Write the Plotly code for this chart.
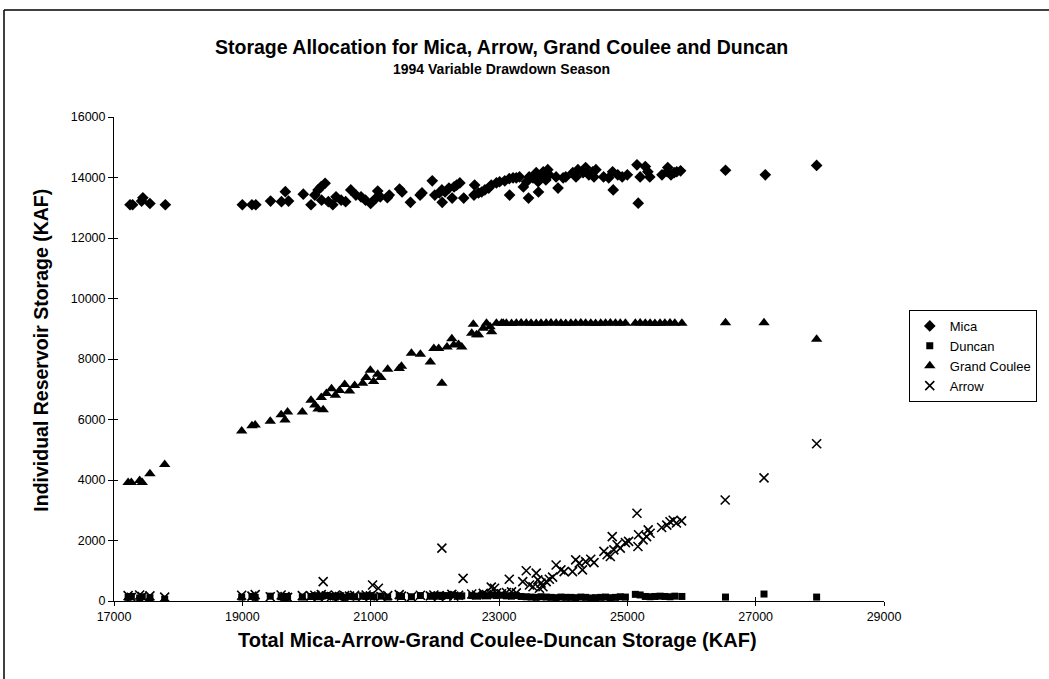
import plotly.graph_objects as go

# ---------------- data ----------------
mica_x = [17250, 17290, 17430, 17450, 17560, 17800,
          19000, 19150, 19210, 19440, 19610, 19670, 19720, 19950,
          20070, 20130, 20180, 20230, 20290, 20235, 20340, 20410, 20460, 20540, 20610,
          20690, 20770, 20850, 20920, 21000, 21080, 21110, 21150, 21260, 21290,
          21450, 21490, 21620, 21770, 21800,
          21960, 22000, 22070, 22110, 22160, 22220, 22115, 22270, 22300, 22340, 22390, 22450,
          22610, 22620, 22680, 22730, 22780, 22840, 22880, 22960, 23010, 23090, 23160, 23220, 23270, 23320, 23165, 23460,
          23380, 23430, 23470, 23530, 23580, 23610, 23660, 23690, 23730, 23760, 23615, 23780, 23890, 23920, 24000, 24040,
          24150, 24200, 24230, 24310, 24350, 24400, 24460, 24510, 24480,
          24630, 24710, 24770, 24780, 24850, 24920, 25000,
          25150, 25200, 25170, 25280, 25320, 25350,
          25540, 25620, 25630, 25680, 25730, 25770, 25830,
          26530, 27150, 27950]
mica_y = [13100, 13100, 13220, 13330, 13140, 13100,
          13100, 13100, 13100, 13220, 13200, 13530, 13220, 13450,
          13100, 13420, 13590, 13700, 13810, 13250, 13200, 13100, 13360, 13250, 13200,
          13590, 13420, 13360, 13250, 13140, 13310, 13550, 13360, 13330, 13420,
          13620, 13520, 13180, 13420, 13490,
          13890, 13420, 13490, 13590, 13520, 13650, 13180, 13320, 13690, 13750, 13820, 13320,
          13420, 13750, 13490, 13520, 13590, 13650, 13750, 13820, 13860, 13890, 13960, 13990, 13990, 14020, 13420, 13320,
          13690, 13860, 14020, 13990, 14160, 13860, 14020, 14190, 13920, 14260, 13520, 14090, 14020, 13650, 13990, 14020,
          14160, 14020, 14260, 14160, 14330, 14090, 14190, 14260, 14020,
          14020, 13990, 14190, 13590, 14090, 14020, 14090,
          14420, 14020, 13150, 14360, 14190, 14020,
          14090, 14190, 14330, 14090, 14160, 14190, 14220,
          14240, 14090, 14400]

duncan_x = [17220, 17270, 17400, 17440, 17560, 17790,
            18990, 19150, 19200, 19435, 19605, 19665, 19705, 19935,
            20070, 20130, 20180, 20230, 20310, 20390, 20450, 20515, 20595, 20670, 20750,
            20875, 20930, 20995, 21045, 21160, 21265, 21445, 21480, 21635, 21775, 21930,
            21985, 22060, 22110, 22190, 22265, 22370, 22420,
            22575, 22650, 22755, 22805, 22885, 22960, 23040, 23115, 23195, 23270,
            23345, 23425, 23500, 23580, 23655, 23735, 23810, 23890, 23965, 24040,
            24120, 24195, 24275, 24350, 24430, 24505, 24585, 24660, 24735, 24815, 24890, 24970,
            25125, 25200, 25280, 25355, 25430, 25510, 25585, 25665, 25740, 25850,
            26530, 27130, 27950]
duncan_y = [120, 150, 100, 140, 110, 60,
            130, 150, 120, 160, 140, 110, 150, 130,
            150, 170, 140, 160, 180, 150, 130, 170, 120, 160, 140,
            170, 150, 180, 140, 160, 130, 170, 150, 140, 180, 160,
            170, 190, 150, 180, 200, 160, 170,
            180, 160, 190, 170, 200, 180, 190, 170, 160, 180,
            150, 140, 130, 120, 140, 130, 120, 110, 130, 120,
            120, 110, 130, 120, 100, 110, 120, 130, 110, 120, 140, 130,
            220, 200, 150, 140, 150, 160, 150, 140, 160, 150,
            130, 230, 130]

gc_x = [17220, 17270, 17400, 17440, 17560, 17790,
        18990, 19150, 19200, 19435, 19605, 19665, 19705, 19935,
        20070, 20130, 20180, 20230, 20260, 20310, 20390, 20450, 20515, 20595, 20670, 20750,
        20875, 20930, 20995, 21045, 21110, 21160, 21265, 21445, 21480, 21635, 21775, 21930,
        21985, 22060, 22110, 22190, 22265, 22295, 22370, 22420,
        22575, 22600, 22650, 22680, 22755, 22805, 22860, 22885, 22960, 23040, 23065,
        23115, 23195, 23270, 23345, 23425, 23500, 23580, 23655, 23735, 23810, 23890, 23965, 24040,
        24120, 24195, 24275, 24350, 24430, 24505, 24585, 24660, 24735, 24815, 24890, 24970,
        25125, 25200, 25280, 25355, 25430, 25510, 25585, 25665, 25740, 25850,
        26530, 27130, 27950]
gc_y = [3920, 3920, 3980, 3920, 4210, 4510,
        5620, 5790, 5820, 5940, 6160, 5980, 6250, 6250,
        6640, 6480, 6350, 6730, 6320, 6860, 7020, 6800, 6960, 7160, 6940, 7120,
        7200, 7390, 7630, 7260, 7500, 7390, 7660, 7690, 7760, 8190, 8160, 7900,
        8350, 8350, 7200, 8400, 8670, 8460, 8480, 8400,
        8850, 9150, 8800, 8800, 9020, 9180, 9070, 8900, 9180, 9180, 9180,
        9180, 9170, 9180, 9190, 9180, 9180, 9170, 9180, 9180, 9190, 9180, 9180, 9170,
        9180, 9180, 9190, 9180, 9180, 9170, 9180, 9180, 9190, 9180, 9180, 9180,
        9180, 9190, 9180, 9180, 9170, 9180, 9180, 9190, 9180, 9180,
        9200, 9200, 8650]

arrow_x = [17220, 17270, 17400, 17440, 17560, 17790,
           18990, 19150, 19200, 19435, 19605, 19665, 19705, 19935,
           20070, 20130, 20180, 20230, 20310, 20390, 20450, 20515, 20595, 20670, 20750,
           20875, 20930, 20995, 21160, 21265, 21445, 21480, 21635, 21775, 21930,
           21985, 22060, 22190, 22265, 22295, 22370, 22575, 22650, 22755, 22805,
           22960, 23040, 23115, 23195, 23270,
           20260, 21030, 21120, 22110, 22440, 22880, 22930,
           23160, 23370, 23425, 23475, 23530, 23580, 23605, 23630, 23655, 23685, 23735, 23785, 23835,
           23890, 23965, 24015, 24145, 24195, 24250, 24300, 24350, 24430, 24480,
           24635, 24685, 24735, 24765, 24790, 24840, 24890, 24970, 25020,
           25150, 25175, 25165, 25245, 25300, 25325, 25355,
           25535, 25615, 25665, 25715, 25765, 25845,
           26525, 27130, 27950]
arrow_y = [180, 120, 200, 150, 170, 130,
           190, 160, 210, 140, 200, 150, 120, 180,
           160, 190, 140, 210, 170, 150, 200, 130, 180, 160, 190,
           140, 200, 170, 150, 180, 210, 160, 140, 190, 170,
           200, 150, 180, 220, 160, 190, 230, 200, 250, 210,
           260, 240, 280, 300, 270,
           640, 530, 420, 1750, 750, 460, 420,
           720, 640, 1000, 530, 470, 920, 700, 420, 590, 470, 640, 720, 790,
           1190, 1030, 970, 970, 1360, 1250, 1030, 1300, 1380, 1270,
           1640, 1530, 1470, 2130, 1690, 1860, 1750, 1930, 1970,
           2900, 2190, 1800, 2020, 2130, 2350, 2240,
           2430, 2510, 2620, 2670, 2580, 2650,
           3340, 4070, 5200]

x_ticks = [17000, 19000, 21000, 23000, 25000, 27000, 29000]
y_ticks = [0, 2000, 4000, 6000, 8000, 10000, 12000, 14000, 16000]

title_main = "Storage Allocation for Mica, Arrow, Grand Coulee and Duncan"
title_sub = "1994 Variable Drawdown Season"
x_title = "Total Mica-Arrow-Grand Coulee-Duncan Storage (KAF)"
y_title = "Individual Reservoir Storage (KAF)"

# ---------------- figure ----------------
FONT = "Liberation Sans, Arial, Helvetica, sans-serif"
W, H = 1049, 679
ML, MR, MT, MB = 114, 158, 117, 78
PW, PH = W - ML - MR, H - MT - MB


def px_x(p):
    return (p - ML) / PW


def px_y(p):
    return (H - MB - p) / PH


fig = go.Figure()
fig.add_trace(go.Scatter(x=mica_x, y=mica_y, mode="markers", name="Mica",
                         marker=dict(symbol="diamond", size=9, color="black")))
fig.add_trace(go.Scatter(x=duncan_x, y=duncan_y, mode="markers", name="Duncan",
                         marker=dict(symbol="square", size=7, color="black")))
fig.add_trace(go.Scatter(x=gc_x, y=gc_y, mode="markers", name="Grand Coulee",
                         marker=dict(symbol="triangle-up", size=10, color="black")))
fig.add_trace(go.Scatter(x=arrow_x, y=arrow_y, mode="markers", name="Arrow",
                         marker=dict(symbol="x-thin-open", size=9, color="black",
                                     line=dict(width=1.6, color="black"))))
# helper trace so the overlay axes (inner half of the crossing ticks) are drawn
fig.add_trace(go.Scatter(x=[None], y=[None], xaxis="x2", yaxis="y2",
                         showlegend=False, hoverinfo="skip"))

axis_common = dict(showgrid=False, zeroline=False, mirror=False)
fig.update_layout(
    width=W, height=H, autosize=False,
    margin=dict(l=ML, r=MR, t=MT, b=MB),
    paper_bgcolor="white", plot_bgcolor="white",
    font=dict(family=FONT, size=12, color="black"),
    xaxis=dict(range=[17000, 29000], tickvals=x_ticks, tickformat="d",
               ticks="outside", ticklen=4,
               tickwidth=1, tickcolor="black", showline=True, linecolor="black",
               linewidth=1, tickfont=dict(size=12.5), **axis_common),
    yaxis=dict(range=[0, 16000], tickvals=y_ticks, tickformat="d",
               ticks="outside", ticklen=5,
               tickwidth=1, tickcolor="black", showline=True, linecolor="black",
               linewidth=1, tickfont=dict(size=12.5), **axis_common),
    xaxis2=dict(overlaying="x", anchor="y2", range=[17000, 29000], tickvals=x_ticks,
                ticks="inside", ticklen=4, tickcolor="black", showticklabels=False,
                showline=False, **axis_common),
    yaxis2=dict(overlaying="y", anchor="x2", range=[0, 16000], tickvals=y_ticks,
                ticks="inside", ticklen=4, tickcolor="black", showticklabels=False,
                showline=False, **axis_common),
    showlegend=True,
    legend=dict(x=px_x(916), y=px_y(310), xanchor="left", yanchor="top",
                bgcolor="white", bordercolor="black", borderwidth=1,
                font=dict(size=13, family=FONT), itemsizing="trace",
                tracegroupgap=0),
)

fig.add_annotation(text="<b>" + title_main + "</b>", xref="paper", yref="paper",
                   x=px_x(505), y=px_y(47), showarrow=False,
                   font=dict(size=19.5, family=FONT), xanchor="center", yanchor="middle")
fig.add_annotation(text="<b>" + title_sub + "</b>", xref="paper", yref="paper",
                   x=px_x(505), y=px_y(69), showarrow=False,
                   font=dict(size=14, family=FONT), xanchor="center", yanchor="middle")
fig.add_annotation(text="<b>" + x_title + "</b>", xref="paper", yref="paper",
                   x=px_x(501), y=px_y(640), showarrow=False,
                   font=dict(size=20, family=FONT), xanchor="center", yanchor="middle")
fig.add_annotation(text="<b>" + y_title + "</b>", xref="paper", yref="paper",
                   x=px_x(40), y=px_y(350), showarrow=False, textangle=-90,
                   font=dict(size=19.5, family=FONT), xanchor="center", yanchor="middle")

# outer frame of the scanned page (left and top edges)
fig.add_shape(type="line", xref="paper", yref="paper",
              x0=px_x(3), x1=px_x(3), y0=px_y(10), y1=px_y(700),
              line=dict(color="black", width=1.5))
fig.add_shape(type="line", xref="paper", yref="paper",
              x0=px_x(3), x1=px_x(1060), y0=px_y(10), y1=px_y(10),
              line=dict(color="black", width=1.5))

fig.write_html("out.html", config={"displayModeBar": False},
               post_script="document.body.style.margin='0';")
